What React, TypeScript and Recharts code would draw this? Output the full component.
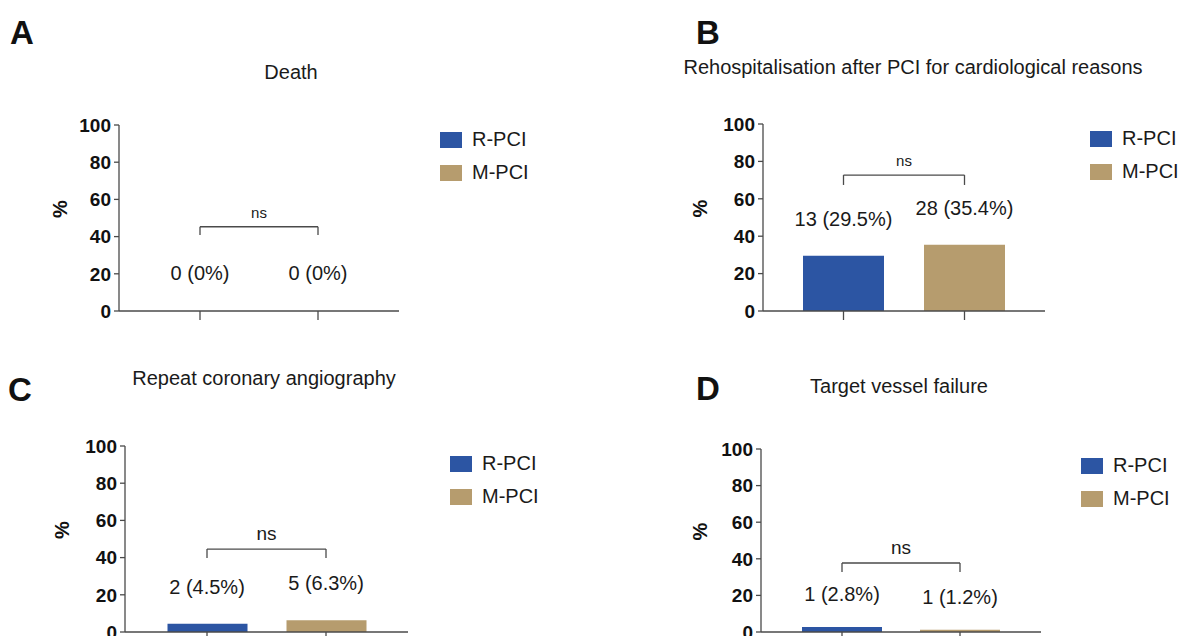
import React from 'react';
import { BarChart, Bar, XAxis, YAxis, Cell, ReferenceLine, ReferenceDot, Legend } from 'recharts';

const groups = ['R-PCI', 'M-PCI'];
const groupColors = ['#2C55A3', '#B69C6E'];
const yTicks = [0, 20, 40, 60, 80, 100];

const panelLetters = ['A', 'B', 'C', 'D'];
const panelTitles = [
  'Death',
  'Rehospitalisation after PCI for cardiological reasons',
  'Repeat coronary angiography',
  'Target vessel failure',
];

const deathPct = [0, 0];
const deathCounts = [0, 0];
const rehospPct = [29.5, 35.4];
const rehospCounts = [13, 28];
const repeatPct = [4.5, 6.3];
const repeatCounts = [2, 5];
const tvfPct = [2.8, 1.2];
const tvfCounts = [1, 1];

const sigLabels = ['ns', 'ns', 'ns', 'ns'];
const bracketTops = [45.3, 72.7, 44.6, 37.7];
const bracketFeet = [40.9, 67.4, 39.8, 32.8];

const seriesPct = [deathPct, rehospPct, repeatPct, tvfPct];
const seriesCounts = [deathCounts, rehospCounts, repeatCounts, tvfCounts];

const FONT = '"Liberation Sans", Arial, Helvetica, sans-serif';
const AXIS = '#4a4a4a';

const layouts = [
  { left: 0, top: 0, width: 590, height: 330, margin: { top: 125, right: 191, left: 59, bottom: 9 }, xHeight: 10, pad: 22, barSize: 81, labelOffset: 30, nsSize: 15, legend: { left: 440, top: 131 }, yLabelOffset: 1, title: { x: 291, y: 72 }, letter: { x: 22, y: 32 } },
  { left: 590, top: 0, width: 591, height: 330, margin: { top: 124, right: 136, left: 113, bottom: 9 }, xHeight: 10, pad: 20, barSize: 81, labelOffset: 29, nsSize: 15, legend: { left: 500, top: 130 }, yLabelOffset: -3, title: { x: 913, y: 67 }, letter: { x: 708, y: 32 } },
  { left: 0, top: 330, width: 590, height: 306, margin: { top: 116, right: 182, left: 65, bottom: 0 }, xHeight: 4, pad: 22.5, barSize: 80, labelOffset: 29, nsSize: 19, legend: { left: 450, top: 125 }, yLabelOffset: -3, title: { x: 264, y: 378 }, letter: { x: 20, y: 389 } },
  { left: 590, top: 330, width: 591, height: 306, margin: { top: 119, right: 140, left: 111, bottom: 0 }, xHeight: 4, pad: 22, barSize: 80, labelOffset: 25, nsSize: 19, legend: { left: 491, top: 127 }, yLabelOffset: -1, title: { x: 899, y: 386 }, letter: { x: 708, y: 388 } },
];

const LegendBox = () => (
  <div style={{ fontFamily: FONT }}>
    {groups.map((g, i) => (
      <div key={g} style={{ display: 'flex', alignItems: 'center', height: 33, marginTop: i === 0 ? -8 : 0 }}>
        <div style={{ width: 22, height: 16, background: groupColors[i], marginRight: 10 }} />
        <span style={{ fontSize: 20, color: '#1a1a1a' }}>{g}</span>
      </div>
    ))}
  </div>
);

function Panel({ idx }: { idx: number }) {
  const L = layouts[idx];
  const data = groups.map((g, i) => ({
    group: g,
    value: seriesPct[idx][i],
    label: `${seriesCounts[idx][i]} (${seriesPct[idx][i]}%)`,
  }));
  const top = bracketTops[idx];
  const foot = bracketFeet[idx];
  return (
    <div style={{ position: 'absolute', left: L.left, top: L.top }}>
      <BarChart width={L.width} height={L.height} data={data} margin={L.margin}>
        <XAxis
          dataKey="group"
          height={L.xHeight}
          tick={() => <g />}
          tickSize={9}
          padding={{ left: L.pad, right: L.pad }}
          stroke={AXIS}
          strokeWidth={1.3}
          tickLine={{ stroke: AXIS, strokeWidth: 1.3 }}
        />
        <YAxis
          width={60}
          domain={[0, 100]}
          ticks={yTicks}
          interval={0}
          tickSize={5}
          tickMargin={3}
          stroke={AXIS}
          strokeWidth={1.3}
          tick={{ fill: '#111', fontSize: 19, fontWeight: 700, fontFamily: FONT }}
          label={{ value: '%', angle: -90, position: 'insideLeft', offset: L.yLabelOffset, fill: '#111', fontSize: 20, fontWeight: 700, fontFamily: FONT }}
        />
        <Legend layout="vertical" align="center" verticalAlign="middle" wrapperStyle={{ left: L.legend.left, top: L.legend.top, width: 'auto' }} content={() => <LegendBox />} />
        <Bar dataKey="value" barSize={L.barSize} isAnimationActive={false}>
          {data.map((d, i) => (
            <Cell key={d.group} fill={groupColors[i]} />
          ))}
        </Bar>
        {data.map((d) => (
          <ReferenceDot
            key={'lbl' + d.group}
            x={d.group}
            y={d.value}
            r={1}
            fill="none"
            stroke="none"
            ifOverflow="visible"
            label={{ value: d.label, position: 'top', offset: L.labelOffset, fill: '#1a1a1a', fontSize: 20, fontFamily: FONT }}
          />
        ))}
        <ReferenceLine
          segment={[{ x: groups[0], y: top }, { x: groups[1], y: top }]}
          stroke={AXIS}
          strokeWidth={1.3}
          ifOverflow="visible"
          label={{ value: sigLabels[idx], position: 'top', offset: 9, fill: '#1a1a1a', fontSize: L.nsSize, fontFamily: FONT }}
        />
        <ReferenceLine segment={[{ x: groups[0], y: top }, { x: groups[0], y: foot }]} stroke={AXIS} strokeWidth={1.3} ifOverflow="visible" />
        <ReferenceLine segment={[{ x: groups[1], y: top }, { x: groups[1], y: foot }]} stroke={AXIS} strokeWidth={1.3} ifOverflow="visible" />
      </BarChart>
    </div>
  );
}

export default function App() {
  return (
    <div style={{ position: 'absolute', left: 0, top: 0, width: 1181, height: 636, background: '#fff', overflow: 'hidden', fontFamily: FONT }}>
      {layouts.map((L, i) => (
        <React.Fragment key={i}>
          <div style={{ position: 'absolute', left: L.letter.x, top: L.letter.y, transform: 'translate(-50%, -50%)', fontSize: 33, fontWeight: 700, lineHeight: 1, color: '#111' }}>
            {panelLetters[i]}
          </div>
          <div style={{ position: 'absolute', left: L.title.x, top: L.title.y, transform: 'translate(-50%, -50%)', fontSize: 20, lineHeight: 1, whiteSpace: 'nowrap', color: '#1a1a1a' }}>
            {panelTitles[i]}
          </div>
        </React.Fragment>
      ))}
      {layouts.map((_, i) => (
        <Panel key={i} idx={i} />
      ))}
    </div>
  );
}
